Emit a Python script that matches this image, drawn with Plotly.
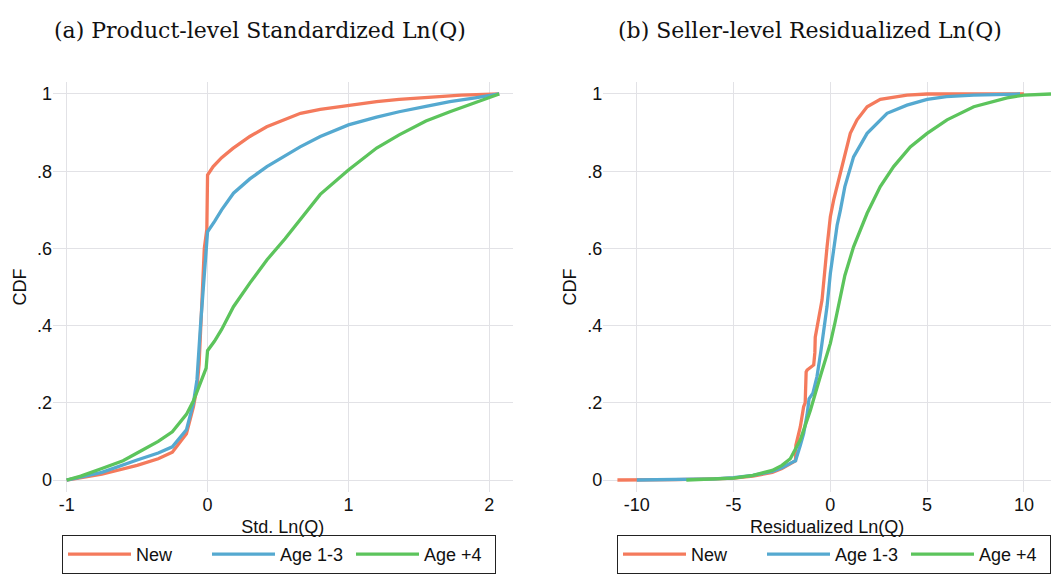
import plotly.graph_objects as go

# ---------------- data ----------------
series_names = ["New", "Age 1-3", "Age +4"]
series_colors = ["#F47A5C", "#55A9D0", "#5CC45C"]

# Panel (a): Product-level standardized Ln(Q)
a_new_x = [-1, -0.75, -0.5, -0.35, -0.25, -0.15, -0.1, -0.075, -0.06, -0.04, -0.023, -0.005, 0, 0.04, 0.1, 0.18,
           0.3, 0.42, 0.55, 0.66, 0.8, 1.0, 1.2, 1.36, 1.6, 1.8, 2.07]
a_new_y = [0, 0.015, 0.038, 0.055, 0.072, 0.12, 0.19, 0.24, 0.3, 0.47, 0.6, 0.65, 0.79, 0.812, 0.835, 0.859,
           0.89, 0.915, 0.935, 0.95, 0.96, 0.971, 0.98, 0.986, 0.993, 0.997, 1.0]

a_age13_x = [-1, -0.75, -0.5, -0.35, -0.25, -0.15, -0.1, -0.075, -0.05, -0.03, -0.015, 0, 0.05, 0.1, 0.184, 0.3,
             0.421, 0.55, 0.657, 0.8, 1.0, 1.2, 1.36, 1.55, 1.72, 1.9, 2.07]
a_age13_y = [0, 0.02, 0.052, 0.07, 0.086, 0.13, 0.2, 0.26, 0.4, 0.5, 0.58, 0.643, 0.67, 0.7, 0.743, 0.78,
             0.812, 0.84, 0.863, 0.89, 0.92, 0.94, 0.954, 0.968, 0.98, 0.99, 1.0]

a_age4_x = [-1, -0.9, -0.75, -0.6, -0.5, -0.35, -0.25, -0.15, -0.1, -0.05, -0.01, 0, 0.05, 0.1, 0.184, 0.3,
            0.421, 0.55, 0.657, 0.8, 1.0, 1.2, 1.36, 1.55, 1.72, 1.9, 2.07]
a_age4_y = [0, 0.01, 0.03, 0.05, 0.07, 0.1, 0.125, 0.17, 0.205, 0.25, 0.29, 0.335, 0.36, 0.39, 0.449, 0.51,
            0.57, 0.625, 0.674, 0.74, 0.803, 0.86, 0.894, 0.93, 0.954, 0.978, 1.0]

# Panel (b): Seller-level residualized Ln(Q)
b_new_x = [-11, -10, -8, -6, -5, -4, -3, -2.5, -2, -1.8, -1.78, -1.55, -1.38, -1.3, -1.25, -1.2, -0.86, -0.8,
           -0.78, -0.6, -0.43, -0.17, 0, 0.17, 0.52, 0.69, 1.03, 1.38, 1.9, 2.58, 3.96, 5, 7, 10]
b_new_y = [0, 0, 0.001, 0.003, 0.005, 0.01, 0.02, 0.03, 0.045, 0.05, 0.09, 0.138, 0.19, 0.2, 0.28, 0.285, 0.298,
           0.33, 0.37, 0.414, 0.466, 0.604, 0.682, 0.725, 0.795, 0.829, 0.898, 0.933, 0.967, 0.986, 0.997, 1.0, 1.0, 1.0]

b_age13_x = [-10, -8, -6, -5, -4, -3, -2.5, -2, -1.8, -1.55, -1.38, -1.2, -1.1, -0.9, -0.69, -0.5, -0.35, -0.17,
             0, 0.2, 0.35, 0.52, 0.75, 1.2, 1.9, 2.93, 3.96, 5, 6, 7.4, 9.8]
b_age13_y = [0, 0.001, 0.003, 0.006, 0.012, 0.022, 0.032, 0.045, 0.05, 0.09, 0.12, 0.17, 0.21, 0.225, 0.268, 0.33,
             0.38, 0.45, 0.535, 0.61, 0.66, 0.699, 0.76, 0.837, 0.898, 0.95, 0.971, 0.986, 0.993, 0.997, 1.0]

b_age4_x = [-7.44, -6, -5, -4, -3, -2.5, -2.07, -1.55, -1.03, -0.52, 0, 0.25, 0.5, 0.75, 1.2, 1.9, 2.58, 3.27,
            4.13, 5, 6.03, 7.41, 9.13, 10, 11.4]
b_age4_y = [0, 0.002, 0.005, 0.012, 0.025, 0.038, 0.055, 0.104, 0.181, 0.268, 0.354, 0.41, 0.47, 0.53, 0.604,
            0.691, 0.76, 0.812, 0.863, 0.898, 0.933, 0.967, 0.99, 0.997, 1.0]

# ticks / labels
y_tickvals = [0, 0.2, 0.4, 0.6, 0.8, 1]
y_ticktext = ["0", ".2", ".4", ".6", ".8", "1"]
a_tickvals = [-1, 0, 1, 2]
a_ticktext = ["-1", "0", "1", "2"]
b_tickvals = [-10, -5, 0, 5, 10]
b_ticktext = ["-10", "-5", "0", "5", "10"]

title_a = "(a) Product-level Standardized Ln(Q)"
title_b = "(b) Seller-level Residualized Ln(Q)"
xtitle_a = "Std. Ln(Q)"
xtitle_b = "Residualized Ln(Q)"
ytitle = "CDF"

# ---------------- figure ----------------
W, H = 1051, 574
fig = go.Figure()

panel_a = [(a_new_x, a_new_y), (a_age13_x, a_age13_y), (a_age4_x, a_age4_y)]
panel_b = [(b_new_x, b_new_y), (b_age13_x, b_age13_y), (b_age4_x, b_age4_y)]

for i, (xs, ys) in enumerate(panel_a):
    fig.add_trace(go.Scatter(x=xs, y=ys, mode="lines", name=series_names[i],
                             line=dict(color=series_colors[i], width=3.3),
                             xaxis="x", yaxis="y", legend="legend"))
for i, (xs, ys) in enumerate(panel_b):
    fig.add_trace(go.Scatter(x=xs, y=ys, mode="lines", name=series_names[i],
                             line=dict(color=series_colors[i], width=3.3),
                             xaxis="x2", yaxis="y2", legend="legend2"))

grid = "rgb(226,226,230)"
tickfont = dict(family="Liberation Sans, Arial, sans-serif", size=18, color="#111")
titlefont = dict(family="DejaVu Serif, serif", size=22, color="#111")

ydom = [1 - 491.6 / H, 1 - 82.4 / H]
common_x = dict(showgrid=True, gridcolor=grid, gridwidth=1.3, zeroline=False, showline=False,
                ticks="", tickfont=tickfont, automargin=False)
common_y = dict(showgrid=True, gridcolor=grid, gridwidth=1.3, zeroline=False, showline=False,
                ticks="", tickfont=tickfont, automargin=False, range=[-0.03, 1.03],
                tickvals=y_tickvals, ticktext=y_ticktext, domain=ydom)

legend_common = dict(orientation="h", y=0, yanchor="bottom",
                     bordercolor="#222", borderwidth=1, font=tickfont, itemwidth=63,
                     entrywidthmode="pixels", bgcolor="white")

fig.update_layout(
    width=W, height=H,
    margin=dict(l=0, r=0, t=0, b=0),
    paper_bgcolor="white", plot_bgcolor="white",
    font=dict(family="Liberation Sans, Arial, sans-serif", size=18, color="#111"),
    xaxis=dict(common_x, domain=[53 / W, 512.7 / W], range=[-1.097, 2.166],
               tickvals=a_tickvals, ticktext=a_ticktext,
               title=dict(text=xtitle_a, font=tickfont, standoff=6)),
    yaxis=dict(common_y, anchor="x",
               title=dict(text=ytitle, font=tickfont, standoff=5)),
    xaxis2=dict(common_x, domain=[603.3 / W, 1.0], range=[-11.73, 11.4],
                tickvals=b_tickvals, ticktext=b_ticktext, anchor="y2",
                title=dict(text=xtitle_b, font=tickfont, standoff=6)),
    yaxis2=dict(common_y, anchor="x2",
                title=dict(text=ytitle, font=tickfont, standoff=5)),
    legend=dict(legend_common, x=62 / W, xanchor="left", entrywidth=66),
    legend2=dict(legend_common, x=1.0, xanchor="right", entrywidth=66),
    annotations=[
        dict(text=title_a, x=260 / W, y=1 - 30 / H, xref="paper", yref="paper",
             showarrow=False, xanchor="center", yanchor="middle", font=titlefont),
        dict(text=title_b, x=810 / W, y=1 - 30 / H, xref="paper", yref="paper",
             showarrow=False, xanchor="center", yanchor="middle", font=titlefont),
    ],
)

fig.write_html("out.html")
